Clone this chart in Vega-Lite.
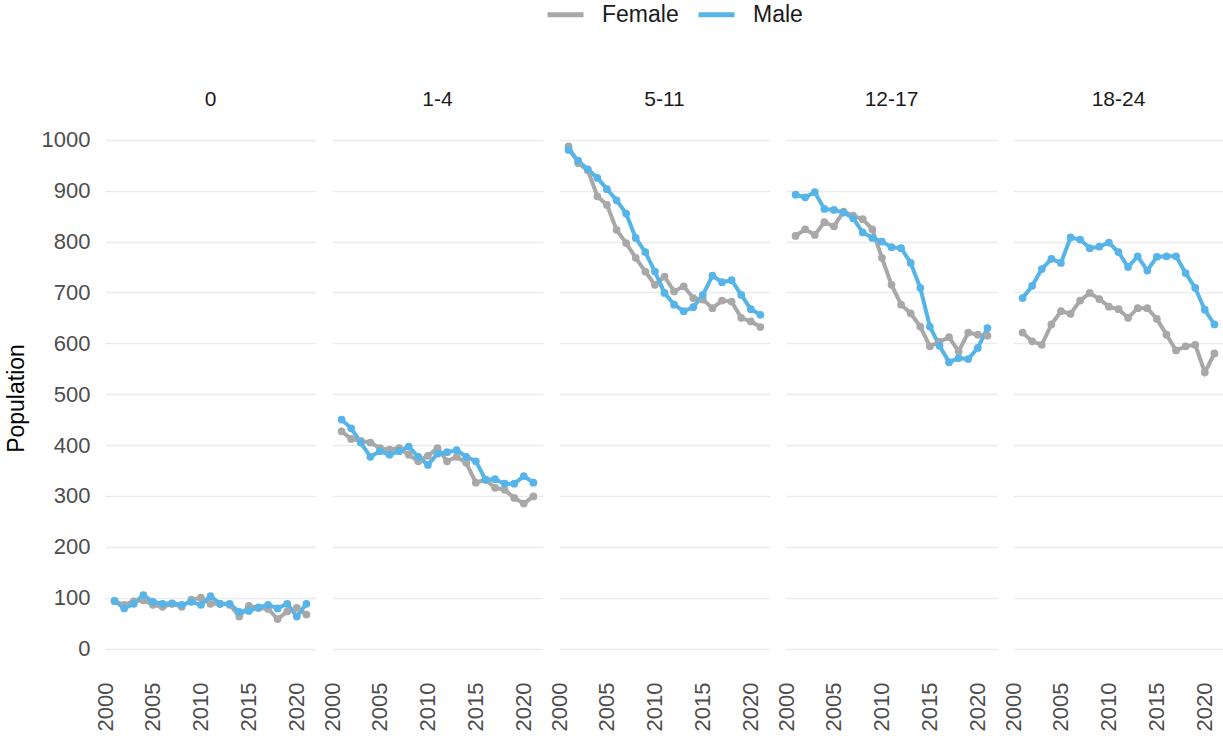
{
 "$schema": "https://vega.github.io/schema/vega-lite/v6.json",
 "padding": {"left": 5, "right": 0, "top": 0, "bottom": 2},
 "background": "white",
 "data": {"values": [
  {"age":"0","sex":"Female","year":2001,"pop":93},{"age":"0","sex":"Female","year":2002,"pop":86},{"age":"0","sex":"Female","year":2003,"pop":93},{"age":"0","sex":"Female","year":2004,"pop":95},{"age":"0","sex":"Female","year":2005,"pop":86},{"age":"0","sex":"Female","year":2006,"pop":82},{"age":"0","sex":"Female","year":2007,"pop":88},{"age":"0","sex":"Female","year":2008,"pop":82},{"age":"0","sex":"Female","year":2009,"pop":96},{"age":"0","sex":"Female","year":2010,"pop":100},{"age":"0","sex":"Female","year":2011,"pop":88},{"age":"0","sex":"Female","year":2012,"pop":88},{"age":"0","sex":"Female","year":2013,"pop":86},{"age":"0","sex":"Female","year":2014,"pop":63},{"age":"0","sex":"Female","year":2015,"pop":84},{"age":"0","sex":"Female","year":2016,"pop":80},{"age":"0","sex":"Female","year":2017,"pop":78},{"age":"0","sex":"Female","year":2018,"pop":58},{"age":"0","sex":"Female","year":2019,"pop":73},{"age":"0","sex":"Female","year":2020,"pop":80},{"age":"0","sex":"Female","year":2021,"pop":67},
  {"age":"0","sex":"Male","year":2001,"pop":94},{"age":"0","sex":"Male","year":2002,"pop":79},{"age":"0","sex":"Male","year":2003,"pop":88},{"age":"0","sex":"Male","year":2004,"pop":105},{"age":"0","sex":"Male","year":2005,"pop":92},{"age":"0","sex":"Male","year":2006,"pop":88},{"age":"0","sex":"Male","year":2007,"pop":89},{"age":"0","sex":"Male","year":2008,"pop":86},{"age":"0","sex":"Male","year":2009,"pop":92},{"age":"0","sex":"Male","year":2010,"pop":86},{"age":"0","sex":"Male","year":2011,"pop":103},{"age":"0","sex":"Male","year":2012,"pop":88},{"age":"0","sex":"Male","year":2013,"pop":88},{"age":"0","sex":"Male","year":2014,"pop":72},{"age":"0","sex":"Male","year":2015,"pop":74},{"age":"0","sex":"Male","year":2016,"pop":81},{"age":"0","sex":"Male","year":2017,"pop":86},{"age":"0","sex":"Male","year":2018,"pop":79},{"age":"0","sex":"Male","year":2019,"pop":88},{"age":"0","sex":"Male","year":2020,"pop":63},{"age":"0","sex":"Male","year":2021,"pop":88},
  {"age":"1-4","sex":"Female","year":2001,"pop":427},{"age":"1-4","sex":"Female","year":2002,"pop":412},{"age":"1-4","sex":"Female","year":2003,"pop":408},{"age":"1-4","sex":"Female","year":2004,"pop":405},{"age":"1-4","sex":"Female","year":2005,"pop":394},{"age":"1-4","sex":"Female","year":2006,"pop":391},{"age":"1-4","sex":"Female","year":2007,"pop":394},{"age":"1-4","sex":"Female","year":2008,"pop":381},{"age":"1-4","sex":"Female","year":2009,"pop":368},{"age":"1-4","sex":"Female","year":2010,"pop":379},{"age":"1-4","sex":"Female","year":2011,"pop":394},{"age":"1-4","sex":"Female","year":2012,"pop":368},{"age":"1-4","sex":"Female","year":2013,"pop":377},{"age":"1-4","sex":"Female","year":2014,"pop":365},{"age":"1-4","sex":"Female","year":2015,"pop":326},{"age":"1-4","sex":"Female","year":2016,"pop":332},{"age":"1-4","sex":"Female","year":2017,"pop":316},{"age":"1-4","sex":"Female","year":2018,"pop":312},{"age":"1-4","sex":"Female","year":2019,"pop":296},{"age":"1-4","sex":"Female","year":2020,"pop":285},{"age":"1-4","sex":"Female","year":2021,"pop":299},
  {"age":"1-4","sex":"Male","year":2001,"pop":450},{"age":"1-4","sex":"Male","year":2002,"pop":433},{"age":"1-4","sex":"Male","year":2003,"pop":405},{"age":"1-4","sex":"Male","year":2004,"pop":377},{"age":"1-4","sex":"Male","year":2005,"pop":388},{"age":"1-4","sex":"Male","year":2006,"pop":381},{"age":"1-4","sex":"Male","year":2007,"pop":388},{"age":"1-4","sex":"Male","year":2008,"pop":397},{"age":"1-4","sex":"Male","year":2009,"pop":377},{"age":"1-4","sex":"Male","year":2010,"pop":361},{"age":"1-4","sex":"Male","year":2011,"pop":383},{"age":"1-4","sex":"Male","year":2012,"pop":386},{"age":"1-4","sex":"Male","year":2013,"pop":390},{"age":"1-4","sex":"Male","year":2014,"pop":377},{"age":"1-4","sex":"Male","year":2015,"pop":368},{"age":"1-4","sex":"Male","year":2016,"pop":332},{"age":"1-4","sex":"Male","year":2017,"pop":333},{"age":"1-4","sex":"Male","year":2018,"pop":324},{"age":"1-4","sex":"Male","year":2019,"pop":324},{"age":"1-4","sex":"Male","year":2020,"pop":339},{"age":"1-4","sex":"Male","year":2021,"pop":326},
  {"age":"5-11","sex":"Female","year":2001,"pop":987},{"age":"5-11","sex":"Female","year":2002,"pop":954},{"age":"5-11","sex":"Female","year":2003,"pop":940},{"age":"5-11","sex":"Female","year":2004,"pop":889},{"age":"5-11","sex":"Female","year":2005,"pop":872},{"age":"5-11","sex":"Female","year":2006,"pop":823},{"age":"5-11","sex":"Female","year":2007,"pop":797},{"age":"5-11","sex":"Female","year":2008,"pop":768},{"age":"5-11","sex":"Female","year":2009,"pop":741},{"age":"5-11","sex":"Female","year":2010,"pop":715},{"age":"5-11","sex":"Female","year":2011,"pop":731},{"age":"5-11","sex":"Female","year":2012,"pop":702},{"age":"5-11","sex":"Female","year":2013,"pop":712},{"age":"5-11","sex":"Female","year":2014,"pop":689},{"age":"5-11","sex":"Female","year":2015,"pop":686},{"age":"5-11","sex":"Female","year":2016,"pop":669},{"age":"5-11","sex":"Female","year":2017,"pop":684},{"age":"5-11","sex":"Female","year":2018,"pop":682},{"age":"5-11","sex":"Female","year":2019,"pop":650},{"age":"5-11","sex":"Female","year":2020,"pop":643},{"age":"5-11","sex":"Female","year":2021,"pop":632},
  {"age":"5-11","sex":"Male","year":2001,"pop":980},{"age":"5-11","sex":"Male","year":2002,"pop":959},{"age":"5-11","sex":"Male","year":2003,"pop":942},{"age":"5-11","sex":"Male","year":2004,"pop":925},{"age":"5-11","sex":"Male","year":2005,"pop":903},{"age":"5-11","sex":"Male","year":2006,"pop":881},{"age":"5-11","sex":"Male","year":2007,"pop":855},{"age":"5-11","sex":"Male","year":2008,"pop":807},{"age":"5-11","sex":"Male","year":2009,"pop":779},{"age":"5-11","sex":"Male","year":2010,"pop":741},{"age":"5-11","sex":"Male","year":2011,"pop":699},{"age":"5-11","sex":"Male","year":2012,"pop":676},{"age":"5-11","sex":"Male","year":2013,"pop":663},{"age":"5-11","sex":"Male","year":2014,"pop":671},{"age":"5-11","sex":"Male","year":2015,"pop":695},{"age":"5-11","sex":"Male","year":2016,"pop":733},{"age":"5-11","sex":"Male","year":2017,"pop":720},{"age":"5-11","sex":"Male","year":2018,"pop":724},{"age":"5-11","sex":"Male","year":2019,"pop":695},{"age":"5-11","sex":"Male","year":2020,"pop":667},{"age":"5-11","sex":"Male","year":2021,"pop":656},
  {"age":"12-17","sex":"Female","year":2001,"pop":811},{"age":"12-17","sex":"Female","year":2002,"pop":824},{"age":"12-17","sex":"Female","year":2003,"pop":813},{"age":"12-17","sex":"Female","year":2004,"pop":838},{"age":"12-17","sex":"Female","year":2005,"pop":830},{"age":"12-17","sex":"Female","year":2006,"pop":859},{"age":"12-17","sex":"Female","year":2007,"pop":851},{"age":"12-17","sex":"Female","year":2008,"pop":844},{"age":"12-17","sex":"Female","year":2009,"pop":824},{"age":"12-17","sex":"Female","year":2010,"pop":768},{"age":"12-17","sex":"Female","year":2011,"pop":715},{"age":"12-17","sex":"Female","year":2012,"pop":676},{"age":"12-17","sex":"Female","year":2013,"pop":659},{"age":"12-17","sex":"Female","year":2014,"pop":633},{"age":"12-17","sex":"Female","year":2015,"pop":594},{"age":"12-17","sex":"Female","year":2016,"pop":603},{"age":"12-17","sex":"Female","year":2017,"pop":612},{"age":"12-17","sex":"Female","year":2018,"pop":584},{"age":"12-17","sex":"Female","year":2019,"pop":621},{"age":"12-17","sex":"Female","year":2020,"pop":617},{"age":"12-17","sex":"Female","year":2021,"pop":615},
  {"age":"12-17","sex":"Male","year":2001,"pop":892},{"age":"12-17","sex":"Male","year":2002,"pop":887},{"age":"12-17","sex":"Male","year":2003,"pop":897},{"age":"12-17","sex":"Male","year":2004,"pop":864},{"age":"12-17","sex":"Male","year":2005,"pop":862},{"age":"12-17","sex":"Male","year":2006,"pop":857},{"age":"12-17","sex":"Male","year":2007,"pop":846},{"age":"12-17","sex":"Male","year":2008,"pop":818},{"age":"12-17","sex":"Male","year":2009,"pop":807},{"age":"12-17","sex":"Male","year":2010,"pop":800},{"age":"12-17","sex":"Male","year":2011,"pop":789},{"age":"12-17","sex":"Male","year":2012,"pop":787},{"age":"12-17","sex":"Male","year":2013,"pop":758},{"age":"12-17","sex":"Male","year":2014,"pop":709},{"age":"12-17","sex":"Male","year":2015,"pop":633},{"age":"12-17","sex":"Male","year":2016,"pop":595},{"age":"12-17","sex":"Male","year":2017,"pop":563},{"age":"12-17","sex":"Male","year":2018,"pop":571},{"age":"12-17","sex":"Male","year":2019,"pop":569},{"age":"12-17","sex":"Male","year":2020,"pop":591},{"age":"12-17","sex":"Male","year":2021,"pop":630},
  {"age":"18-24","sex":"Female","year":2001,"pop":621},{"age":"18-24","sex":"Female","year":2002,"pop":604},{"age":"18-24","sex":"Female","year":2003,"pop":597},{"age":"18-24","sex":"Female","year":2004,"pop":637},{"age":"18-24","sex":"Female","year":2005,"pop":663},{"age":"18-24","sex":"Female","year":2006,"pop":658},{"age":"18-24","sex":"Female","year":2007,"pop":684},{"age":"18-24","sex":"Female","year":2008,"pop":699},{"age":"18-24","sex":"Female","year":2009,"pop":687},{"age":"18-24","sex":"Female","year":2010,"pop":672},{"age":"18-24","sex":"Female","year":2011,"pop":667},{"age":"18-24","sex":"Female","year":2012,"pop":650},{"age":"18-24","sex":"Female","year":2013,"pop":669},{"age":"18-24","sex":"Female","year":2014,"pop":669},{"age":"18-24","sex":"Female","year":2015,"pop":648},{"age":"18-24","sex":"Female","year":2016,"pop":617},{"age":"18-24","sex":"Female","year":2017,"pop":586},{"age":"18-24","sex":"Female","year":2018,"pop":594},{"age":"18-24","sex":"Female","year":2019,"pop":597},{"age":"18-24","sex":"Female","year":2020,"pop":543},{"age":"18-24","sex":"Female","year":2021,"pop":580},
  {"age":"18-24","sex":"Male","year":2001,"pop":689},{"age":"18-24","sex":"Male","year":2002,"pop":713},{"age":"18-24","sex":"Male","year":2003,"pop":746},{"age":"18-24","sex":"Male","year":2004,"pop":766},{"age":"18-24","sex":"Male","year":2005,"pop":758},{"age":"18-24","sex":"Male","year":2006,"pop":808},{"age":"18-24","sex":"Male","year":2007,"pop":804},{"age":"18-24","sex":"Male","year":2008,"pop":787},{"age":"18-24","sex":"Male","year":2009,"pop":790},{"age":"18-24","sex":"Male","year":2010,"pop":798},{"age":"18-24","sex":"Male","year":2011,"pop":779},{"age":"18-24","sex":"Male","year":2012,"pop":750},{"age":"18-24","sex":"Male","year":2013,"pop":771},{"age":"18-24","sex":"Male","year":2014,"pop":743},{"age":"18-24","sex":"Male","year":2015,"pop":770},{"age":"18-24","sex":"Male","year":2016,"pop":771},{"age":"18-24","sex":"Male","year":2017,"pop":771},{"age":"18-24","sex":"Male","year":2018,"pop":738},{"age":"18-24","sex":"Male","year":2019,"pop":709},{"age":"18-24","sex":"Male","year":2020,"pop":666},{"age":"18-24","sex":"Male","year":2021,"pop":637}
 ]},
 "facet": {
  "column": {"field": "age", "type": "nominal", "sort": ["0","1-4","5-11","12-17","18-24"], "title": null,
   "header": {"labelFontSize": 21, "labelColor": "#1a1a1a", "labelPadding": 14, "labelFont": "Liberation Sans"}}
 },
 "spacing": 16,
 "spec": {
  "width": 211,
  "height": 548,
  "mark": {"type": "line", "strokeWidth": 4, "point": {"filled": true, "size": 60, "opacity": 1}},
  "encoding": {
   "x": {"field": "year", "type": "quantitative",
    "scale": {"domain": [2000, 2022], "nice": false, "zero": false},
    "axis": {"title": null, "values": [2000, 2005, 2010, 2015, 2020], "format": "d", "labelAngle": 270, "labelAlign": "right", "labelBaseline": "middle", "grid": false, "ticks": false, "domain": false, "labelFontSize": 22, "labelColor": "#4d4d4d", "labelPadding": 10}},
   "y": {"field": "pop", "type": "quantitative",
    "scale": {"domain": [-46, 1031], "nice": false, "zero": false},
    "axis": {"title": "Population", "values": [0,100,200,300,400,500,600,700,800,900,1000], "format": "d", "grid": true, "gridColor": "#ebebeb", "gridWidth": 1.6, "ticks": false, "domain": false, "labelFontSize": 22, "labelColor": "#4d4d4d", "labelPadding": 15, "titleFontSize": 23, "titleFontWeight": "normal", "titleColor": "#000000", "titlePadding": 13}},
   "color": {"field": "sex", "type": "nominal",
    "scale": {"domain": ["Female", "Male"], "range": ["#a8a8a8", "#56b4e9"]},
    "legend": {"title": null, "orient": "none", "legendX": 446, "legendY": -124, "direction": "horizontal", "symbolType": "M-1.5,0H1.5", "symbolStrokeWidth": 5, "symbolSize": 576, "labelFontSize": 23, "labelColor": "#1a1a1a", "labelOffset": 22, "columnPadding": 9}}
  }
 },
 "config": {
  "font": "Liberation Sans",
  "view": {"stroke": null}
 }
}
